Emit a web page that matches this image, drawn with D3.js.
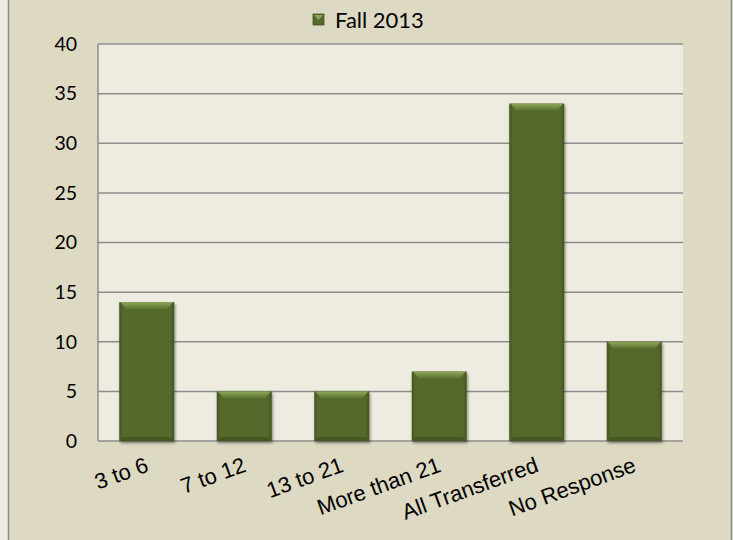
<!DOCTYPE html>
<html>
<head>
<meta charset="utf-8">
<script src="https://cdn.jsdelivr.net/npm/d3@7"></script>
<style>
  html, body { margin: 0; padding: 0; background: #eeece1; }
  svg { display: block; }
</style>
</head>
<body>
<div id="chart"></div>
<script>
// data
const categories = ["3 to 6", "7 to 12", "13 to 21", "More than 21", "All Transferred", "No Response"];
const values = [14, 5, 5, 7, 34, 10];
const yTicks = [0, 5, 10, 15, 20, 25, 30, 35, 40];
const seriesName = "Fall 2013";

const width = 733;
const height = 540;
const plot = { left: 98, right: 683, top: 44, bottom: 441 };

const svg = d3.select("#chart")
  .append("svg")
  .attr("width", width)
  .attr("height", height);

const defs = svg.append("defs");
const shadow = defs.append("filter").attr("id", "shadow")
  .attr("x", "-20%").attr("y", "-20%").attr("width", "140%").attr("height", "140%");
shadow.append("feDropShadow")
  .attr("dx", 1).attr("dy", 2).attr("stdDeviation", 1.5)
  .attr("flood-color", "#000").attr("flood-opacity", 0.45);

const sideGrad = defs.append("linearGradient").attr("id", "side");
sideGrad.append("stop").attr("offset", "0%").attr("stop-color", "#435422");
sideGrad.append("stop").attr("offset", "7%").attr("stop-color", "#55692c");
sideGrad.append("stop").attr("offset", "93%").attr("stop-color", "#55692c");
sideGrad.append("stop").attr("offset", "100%").attr("stop-color", "#435422");

const topGrad = defs.append("linearGradient").attr("id", "bevel")
  .attr("x1", 0).attr("x2", 0).attr("y1", 0).attr("y2", 1);
topGrad.append("stop").attr("offset", "0%").attr("stop-color", "#8da65a");
topGrad.append("stop").attr("offset", "100%").attr("stop-color", "#5b712f");

// chart frame
svg.append("rect")
  .attr("x", 9).attr("y", 0)
  .attr("width", 722).attr("height", height)
  .attr("fill", "#ddd9c3");
svg.append("line")
  .attr("x1", 8.5).attr("x2", 8.5).attr("y1", 0).attr("y2", height)
  .attr("stroke", "#8a8a8a").attr("stroke-width", 1.5);
svg.append("line")
  .attr("x1", 731.5).attr("x2", 731.5).attr("y1", 0).attr("y2", height)
  .attr("stroke", "#8a8a8a").attr("stroke-width", 1.5);

// scales
const x = d3.scaleBand()
  .domain(categories)
  .range([plot.left, plot.right])
  .paddingInner(0.436)
  .paddingOuter(0.218);

const y = d3.scaleLinear()
  .domain([0, 40])
  .range([plot.bottom, plot.top]);

// plot area
svg.append("rect")
  .attr("x", plot.left).attr("y", plot.top)
  .attr("width", plot.right - plot.left).attr("height", plot.bottom - plot.top)
  .attr("fill", "#eeece1");

// gridlines
svg.append("g")
  .selectAll("line")
  .data(yTicks)
  .join("line")
  .attr("x1", plot.left).attr("x2", plot.right)
  .attr("y1", d => y(d)).attr("y2", d => y(d))
  .attr("stroke", "#8c8c8c").attr("stroke-width", 1.5);

svg.append("line")
  .attr("x1", plot.left).attr("x2", plot.left)
  .attr("y1", plot.top).attr("y2", plot.bottom)
  .attr("stroke", "#8c8c8c").attr("stroke-width", 1.5);

// y axis labels
const yAxis = d3.axisLeft(y).tickValues(yTicks).tickSize(0).tickPadding(21);
svg.append("g")
  .attr("transform", `translate(${plot.left}, 0)`)
  .call(yAxis)
  .call(g => g.select(".domain").remove())
  .call(g => g.selectAll("text")
    .attr("font-family", "Lato, 'Open Sans', sans-serif")
    .attr("font-size", 19.5)
    .attr("fill", "#000"));

// bars
const bars = svg.append("g")
  .selectAll("g")
  .data(values)
  .join("g");

bars.append("rect")
  .attr("x", (d, i) => x(categories[i]))
  .attr("y", d => y(d))
  .attr("width", x.bandwidth())
  .attr("height", d => y(0) - y(d))
  .attr("fill", "url(#side)")
  .attr("filter", "url(#shadow)");

// top bevel
bars.append("polygon")
  .attr("points", (d, i) => {
    const x0 = x(categories[i]);
    const x1 = x0 + x.bandwidth();
    const t = y(d);
    const b = 7;
    return `${x0 + 1},${t} ${x1 - 1},${t} ${x1 - b},${t + b} ${x0 + b},${t + b}`;
  })
  .attr("fill", "url(#bevel)");

// bottom bevel
bars.append("polygon")
  .attr("points", (d, i) => {
    const x0 = x(categories[i]);
    const x1 = x0 + x.bandwidth();
    const bt = y(0);
    const b = 4;
    return `${x0},${bt} ${x1},${bt} ${x1 - b},${bt - b} ${x0 + b},${bt - b}`;
  })
  .attr("fill", "#46571f");

// x labels
svg.append("g")
  .selectAll("text")
  .data(categories)
  .join("text")
  .attr("transform", d => `translate(${x(d) + x.bandwidth() / 2 + 3}, ${plot.bottom + 30}) rotate(-20)`)
  .attr("text-anchor", "end")
  .attr("font-family", "'Liberation Sans', Arial, sans-serif")
  .attr("font-size", 22)
  .attr("fill", "#000")
  .text(d => d);

// legend
const legend = svg.append("g");
legend.append("rect")
  .attr("x", 313).attr("y", 14)
  .attr("width", 11).attr("height", 11)
  .attr("fill", "#55692c")
  .attr("stroke", "#43541f").attr("stroke-width", 0.8);
legend.append("polygon")
  .attr("points", "314,15 323,15 318.5,20")
  .attr("fill", "#8da65a");
legend.append("text")
  .attr("x", 335).attr("y", 28)
  .attr("font-family", "Lato, 'Open Sans', sans-serif")
  .attr("font-size", 22)
  .attr("fill", "#000")
  .text(seriesName);
</script>
</body>
</html>
